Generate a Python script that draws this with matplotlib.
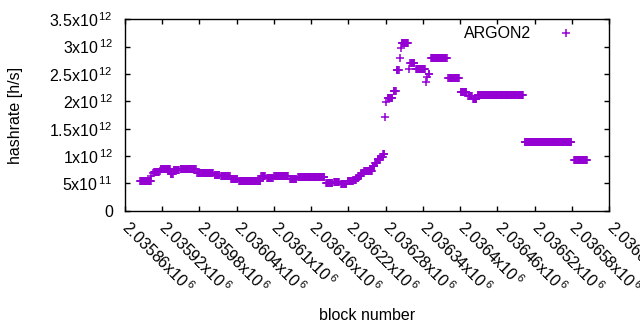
import numpy as np
import matplotlib
matplotlib.use('Agg')
from matplotlib import pyplot as plt

plt.rcParams['font.family'] = ['Liberation Sans', 'DejaVu Sans']
plt.rcParams['mathtext.fontset'] = 'custom'
plt.rcParams['mathtext.rm'] = 'Liberation Sans'
plt.rcParams['mathtext.it'] = 'Liberation Sans'

# runs of blocks with (roughly) constant hashrate, value in 1e12 h/s
run_start = [2035885, 2035903, 2035905, 2035907, 2035917, 2035918, 2035934, 2035939,
             2035950, 2035977, 2036005, 2036015, 2036031, 2036044, 2036079, 2036081,
             2036089, 2036101, 2036126, 2036139, 2036184, 2036197, 2036208, 2036219,
             2036228, 2036233, 2036237, 2036241, 2036245, 2036259, 2036263, 2036267,
             2036272, 2036276, 2036279, 2036280, 2036283, 2036293, 2036298, 2036303,
             2036305, 2036306, 2036317, 2036320, 2036329, 2036345, 2036347, 2036349,
             2036353, 2036381, 2036401, 2036413, 2036421, 2036428, 2036504, 2036583]
run_end = [2035902, 2035903, 2035905, 2035915, 2035917, 2035933, 2035937, 2035947,
           2035974, 2036002, 2036012, 2036029, 2036041, 2036078, 2036079, 2036086,
           2036098, 2036123, 2036136, 2036181, 2036194, 2036205, 2036217, 2036227,
           2036232, 2036236, 2036240, 2036244, 2036258, 2036262, 2036266, 2036271,
           2036275, 2036278, 2036279, 2036280, 2036291, 2036296, 2036301, 2036303,
           2036305, 2036316, 2036317, 2036326, 2036343, 2036345, 2036347, 2036350,
           2036378, 2036398, 2036410, 2036419, 2036426, 2036501, 2036579, 2036604]
run_value = [0.537, 0.63, 0.69, 0.70, 0.73, 0.757, 0.67, 0.74,
             0.757, 0.685, 0.655, 0.638, 0.574, 0.543, 0.64, 0.635,
             0.60, 0.635, 0.577, 0.61, 0.505, 0.525, 0.495, 0.55,
             0.56, 0.60, 0.64, 0.69, 0.73, 0.82, 0.88, 0.95,
             0.99, 1.03, 1.71, 1.98, 2.07, 2.19, 2.58, 2.80,
             2.98, 3.075, 2.60, 2.71, 2.585, 2.36, 2.44, 2.50,
             2.79, 2.42, 2.165, 2.105, 2.04, 2.11, 1.265, 0.92]

x_ticks = np.arange(2035860, 2036641, 60)
x_labels = ['%gx10$^{\\,6}$' % (t / 1e6) for t in x_ticks]
y_ticks = [0, 0.5e12, 1e12, 1.5e12, 2e12, 2.5e12, 3e12, 3.5e12]
y_labels = ['0', '5x10$^{\\,11}$', '1x10$^{\\,12}$', '1.5x10$^{\\,12}$', '2x10$^{\\,12}$',
            '2.5x10$^{\\,12}$', '3x10$^{\\,12}$', '3.5x10$^{\\,12}$']

blocks = np.concatenate([np.arange(s, e + 1) for s, e in zip(run_start, run_end)])
rate = np.concatenate([np.full(e - s + 1, v * 1e12)
                       for s, e, v in zip(run_start, run_end, run_value)])

fig = plt.figure(figsize=(6.4, 3.3), dpi=100)
ax = fig.add_axes([124.7 / 640, 1 - 210.7 / 330, (609.3 - 124.7) / 640, (210.7 - 19.3) / 330])

ax.plot(blocks, rate, linestyle='none', marker='+', markersize=5.8,
        markeredgewidth=1.1, color='#9400d3', label='ARGON2')

fs = 11.5
ax.set_xlim(2035860, 2036640)
ax.set_ylim(0, 3.5e12)
ax.set_xticks(x_ticks)
ax.set_xticklabels([])
# rotated x tick labels, placed like gnuplot's "rotate by -45"
for t, lab in zip(x_ticks, x_labels):
    ax.annotate(lab, xy=(t, 0), xycoords=('data', 'axes fraction'),
                xytext=(5, -5), textcoords='offset points',
                rotation=-45, rotation_mode='anchor', ha='left', va='top',
                fontsize=fs, annotation_clip=False)
ax.set_yticks(y_ticks)
ax.set_yticklabels(y_labels, fontsize=fs)
ax.tick_params(direction='in', length=3.5, width=1, top=True, right=True)
ax.tick_params(axis='y', pad=8.5)
for sp in ax.spines.values():
    sp.set_linewidth(1)

ax.set_xlabel('block number', fontsize=fs, va='top')
ax.xaxis.set_label_coords(0.5, -0.51)
ax.set_ylabel('hashrate [h/s]', fontsize=fs)
ax.yaxis.set_label_coords(-0.21, 0.5)

ax.legend(loc='upper right', bbox_to_anchor=(1.0, 1.03), frameon=False,
          markerfirst=False, handlelength=3.8, handletextpad=0.3,
          borderaxespad=0, borderpad=0.8, fontsize=fs)

plt.savefig('out.png', dpi=100)
